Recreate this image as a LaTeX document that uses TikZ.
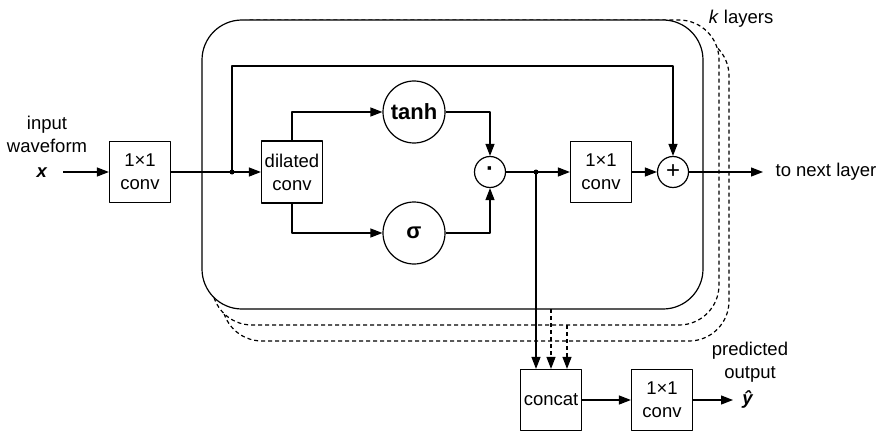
\documentclass[tikz,border=0pt]{standalone}
\usepackage{fontspec}
\setmainfont{Liberation Sans}
\usetikzlibrary{arrows.meta}
\tikzset{
  box/.style={draw, minimum width=61pt, minimum height=61pt, inner sep=0pt, align=center},
  gate/.style={draw, circle, minimum size=62pt, inner sep=0pt, font=\fontsize{22}{24}\selectfont\bfseries},
  op/.style={draw, circle, minimum size=31pt, inner sep=0pt, font=\fontsize{24}{24}\selectfont},
  layer/.style={draw, fill=white, rounded corners=40pt},
  copy/.style={layer, dash pattern=on 4pt off 3pt},
}
\begin{document}
\begin{tikzpicture}[>={Triangle[length=12pt,width=9pt]}, line join=round,
		x=1pt, y=-1pt, line width=1.2pt, font=\fontsize{18.5}{23}\selectfont]
		\useasboundingbox (0,0) rectangle (877,433);
		% layers behind
		\draw[copy] (222,36) rectangle (729,341);
		\draw[copy] (212,20) rectangle (719,325);
		\draw[layer] (202,20) rectangle (703,309);
		% points
		\path
		(232,172) coordinate (ja)
		(536,172) coordinate (jb)
		(232,66) coordinate (skip)
		(63,172) coordinate (xa)
		(763,172) coordinate (nxt)
		(733,400) coordinate (ya)
		(551,309) coordinate (la)
		(567,325) coordinate (lb)
		;
		% blocks
		\node[box] (conva) at (140,172) {1×1\\conv};
		\node[box, minimum height=62pt] (dil) at (292,172) {dilated\\conv};
		\node[gate] (tanh) at (414,112) {tanh};
		\node[gate] (sig) at (414,233) {σ};
		\node[op] (prod) at (490,172) {\textbf{·}};
		\node[op] (sum) at (673,172) {+};
		\node[box] (convb) at (601,172) {1×1\\conv};
		\node[box] (cat) at (551,400) {concat};
		\node[box] (convc) at (662,400) {1×1\\conv};
		% labels
		\node[align=center] (inlbl) at (47,134) {input\\waveform};
		\node (xin) at (42,173) {\textbf{\textit{x}}};
		\node[anchor=west, inner sep=1pt] (nxtlbl) at (774,172) {to next layer};
		\node (klbl) at (741,19) {\textit{k} layers};
		\node[align=center] (outlbl) at (750,362) {predicted\\output};
		\node (yhat) at (748,400) {\textbf{\textit{ŷ}}};
		% connections
		\draw[->] (xa) -- (conva);
		\draw[->] (conva) -- (dil);
		\draw[->] (ja) -- (skip) -| (sum.north);
		\draw[->] (dil.north) |- (tanh.west);
		\draw[->] (dil.south) |- (sig.west);
		\draw[->] (tanh.east) -| (prod.north);
		\draw[->] (sig.east) -| (prod.south);
		\draw[->] (prod) -- (convb);
		\draw[->] (convb) -- (sum);
		\draw[->] (sum) -- (nxt);
		\draw[->] (jb) -- (jb |- cat.north);
		\draw[->, dash pattern=on 4pt off 3pt] (la) -- (la |- cat.north);
		\draw[->, dash pattern=on 4pt off 3pt] (lb) -- (lb |- cat.north);
		\draw[->] (cat) -- (convc);
		\draw[->] (convc) -- (ya);
		\foreach \j in {ja,jb}
			\fill (\j) circle (2.5pt);
\end{tikzpicture}
\end{document}
